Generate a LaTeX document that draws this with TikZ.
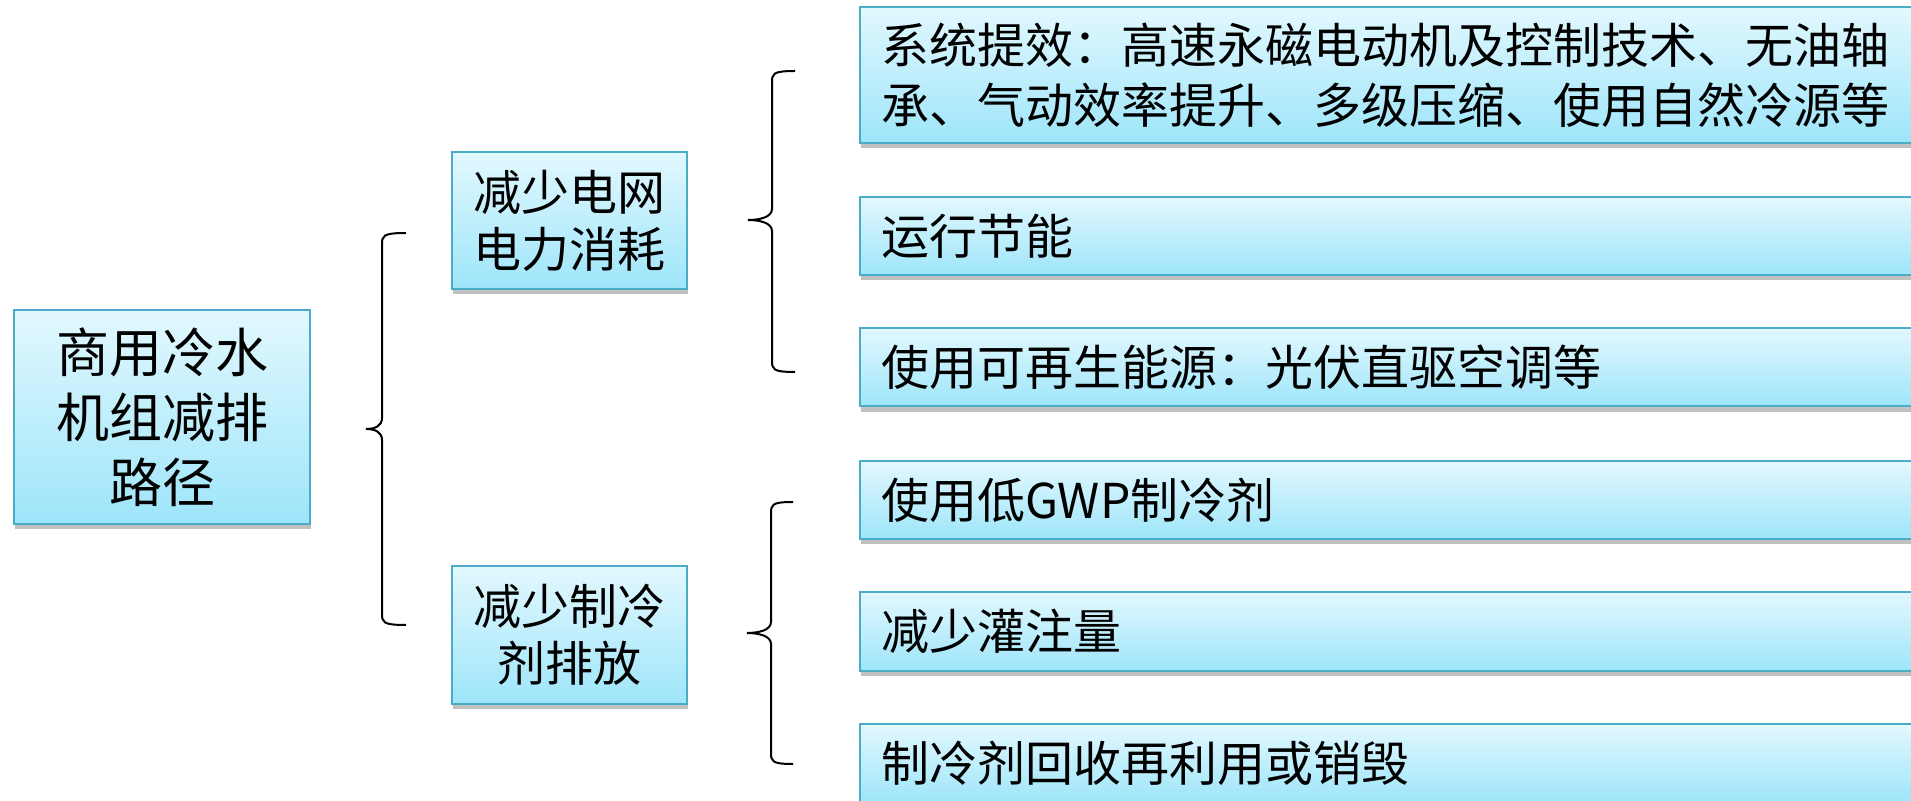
\documentclass[tikz,border=0pt]{standalone}
\usepackage{fontspec}
\setmainfont{Noto Sans CJK SC}
\usetikzlibrary{shadows,calc}
\definecolor{boxtop}{RGB}{226,248,254}
\definecolor{boxbot}{RGB}{158,229,250}
\definecolor{boxline}{RGB}{75,172,198}
\tikzset{
  box/.style={draw=boxline, line width=1pt, top color=boxtop, bottom color=boxbot,
    drop shadow={shadow xshift=0.6pt, shadow yshift=-2.6pt, opacity=0.35, fill=black!70},
    inner sep=0pt, align=center},
  rootbox/.style={box, minimum width=148pt, minimum height=107pt,
    font=\fontsize{26.5pt}{32.5pt}\selectfont},
  midbox/.style={box, minimum width=117.5pt, minimum height=68.5pt,
    font=\fontsize{24pt}{28.5pt}\selectfont},
  leafbox/.style={box, anchor=west, minimum width=535pt, text width=514pt, align=left,
    inner xsep=10.5pt, font=\fontsize{24pt}{30pt}\selectfont},
  bracket/.style={draw=black, line width=1pt}
}
\begin{document}
\begin{tikzpicture}[x=0.5pt,y=-0.5pt]
\useasboundingbox (0,0) rectangle (1911,801);
\clip (0,0) rectangle (1911,801);
% nodes
\node[rootbox] (root) at (162,417) {商用冷水\\机组减排\\路径};
\node[midbox] (m1) at (569.5,220.5) {减少电网\\电力消耗};
\node[midbox] (m2) at (569.5,635) {减少制冷\\剂排放};
\node[leafbox, minimum height=68pt] (r1) at (859,75) {系统提效：高速永磁电动机及控制技术、无油轴\\承、气动效率提升、多级压缩、使用自然冷源等};
\node[leafbox, minimum height=39pt] (r2) at (859,236) {运行节能};
\node[leafbox, minimum height=39pt] (r3) at (859,367.5) {使用可再生能源：光伏直驱空调等};
\node[leafbox, minimum height=39pt] (r4) at (859,500) {使用低GWP制冷剂};
\node[leafbox, minimum height=39pt] (r5) at (859,631.5) {减少灌注量};
\node[leafbox, minimum height=39pt] (r6) at (859,763) {制冷剂回收再利用或销毁};
% brace coordinates
\coordinate (b0tip) at (366,429);
\coordinate (b0top) at (406,233);
\coordinate (b0bot) at (406,625);
\coordinate (b1tip) at (748,220);
\coordinate (b1top) at (795,71);
\coordinate (b1bot) at (795,372);
\coordinate (b2tip) at (747,633);
\coordinate (b2top) at (793,502);
\coordinate (b2bot) at (793,764);
% braces
\draw[bracket] (b0top) .. controls (382,233) and (382,236) .. (382,245)
  -- (382,418) .. controls (382,426) and (375,429) .. (b0tip)
  .. controls (375,429) and (382,432) .. (382,440)
  -- (382,613) .. controls (382,622) and (382,625) .. (b0bot);
\draw[bracket] (b1top) .. controls (772,71) and (772,74) .. (772,83)
  -- (772,209) .. controls (772,217) and (760,220) .. (b1tip)
  .. controls (760,220) and (772,223) .. (772,231)
  -- (772,360) .. controls (772,369) and (772,372) .. (b1bot);
\draw[bracket] (b2top) .. controls (771,502) and (771,505) .. (771,514)
  -- (771,622) .. controls (771,630) and (759,633) .. (b2tip)
  .. controls (759,633) and (771,636) .. (771,644)
  -- (771,752) .. controls (771,761) and (771,764) .. (b2bot);
\end{tikzpicture}
\end{document}
